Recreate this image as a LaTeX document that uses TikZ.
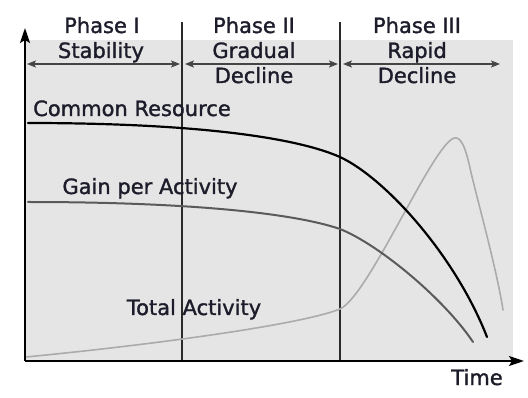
\documentclass[tikz,border=0pt]{standalone}
\usepackage{fontspec}
\setmainfont{DejaVu Sans}
\newfontfamily\lblfont{DejaVu Sans}[FakeBold=1.4]
\usetikzlibrary{arrows.meta}
\definecolor{bg}{HTML}{E5E5E5}
\definecolor{txt}{HTML}{1C1C2A}
\definecolor{divider}{HTML}{2A2A2A}
\definecolor{phasearrow}{HTML}{444444}
\definecolor{gaincol}{HTML}{5A5A5A}
\definecolor{totalcol}{HTML}{ABABAB}
\tikzset{
  lbl/.style={font=\lblfont\fontsize{21}{24}\selectfont, text=txt, inner sep=0pt, anchor=base},
  axisline/.style={line width=2pt, black, -{Stealth[length=15pt,width=10pt,inset=3pt]}},
  divline/.style={line width=1.6pt, divider},
  phasearr/.style={line width=1.3pt, phasearrow, {Stealth[length=9pt,width=7pt,inset=2pt]}-{Stealth[length=9pt,width=7pt,inset=2pt]}},
  commoncurve/.style={line width=2.2pt, black, line cap=round},
  gaincurve/.style={line width=2pt, gaincol, line cap=round},
  totalcurve/.style={line width=1.6pt, totalcol, line cap=round, line join=round}
}
\begin{document}
\begin{tikzpicture}[x=1pt,y=-1pt]
\useasboundingbox (0,0) rectangle (528,398);
% background
\fill[bg] (25,40) rectangle (513,361);
% coordinates
\coordinate (O) at (25,361);
\coordinate (Ytop) at (25,28);
\coordinate (Xend) at (524,361);
\coordinate (d1t) at (182,22);
\coordinate (d1b) at (182,361);
\coordinate (d2t) at (340,22);
\coordinate (d2b) at (340,361);
\coordinate (a1l) at (27,64);
\coordinate (a1r) at (180,64);
\coordinate (a2l) at (185,64);
\coordinate (a2r) at (338,64);
\coordinate (a3l) at (343,64);
\coordinate (a3r) at (500,64);
% dividers
\draw[divline] (d1t) -- (d1b);
\draw[divline] (d2t) -- (d2b);
% phase arrows
\draw[phasearr] (a1l) -- (a1r);
\draw[phasearr] (a2l) -- (a2r);
\draw[phasearr] (a3l) -- (a3r);
% curves
\draw[totalcurve] (26,357) .. controls (150,345) and (300,325) .. (340,309)
  .. controls (368,296) and (428,155) .. (452,139)
  .. controls (461,133) and (466,150) .. (470,168)
  .. controls (476,195) and (497,270) .. (503,310);
\draw[gaincurve] (28,202) .. controls (180,202) and (290,212) .. (340,229)
  .. controls (380,245) and (445,300) .. (473,342);
\draw[commoncurve] (28,123) .. controls (180,123) and (290,135) .. (340,157)
  .. controls (385,178) and (455,255) .. (487,337);
% axes
\draw[axisline] (O) -- (Ytop);
\draw[axisline] (O) -- (Xend);
% labels
\node[lbl] (p1) at (102,33) {Phase I};
\node[lbl] (s1) at (101,58) {Stability};
\node[lbl] (p2) at (254,33) {Phase II};
\node[lbl] (s2) at (254,58) {Gradual};
\node[lbl] (d2) at (254,83) {Decline};
\node[lbl] (p3) at (417,33) {Phase III};
\node[lbl] (s3) at (417,58) {Rapid};
\node[lbl] (d3) at (417,83) {Decline};
\node[lbl] (cr) at (132,116) {Common Resource};
\node[lbl] (ga) at (150,194) {Gain per Activity};
\node[lbl] (ta) at (194,315) {Total Activity};
\node[lbl] (tm) at (477,385) {Time};
\end{tikzpicture}
\end{document}
